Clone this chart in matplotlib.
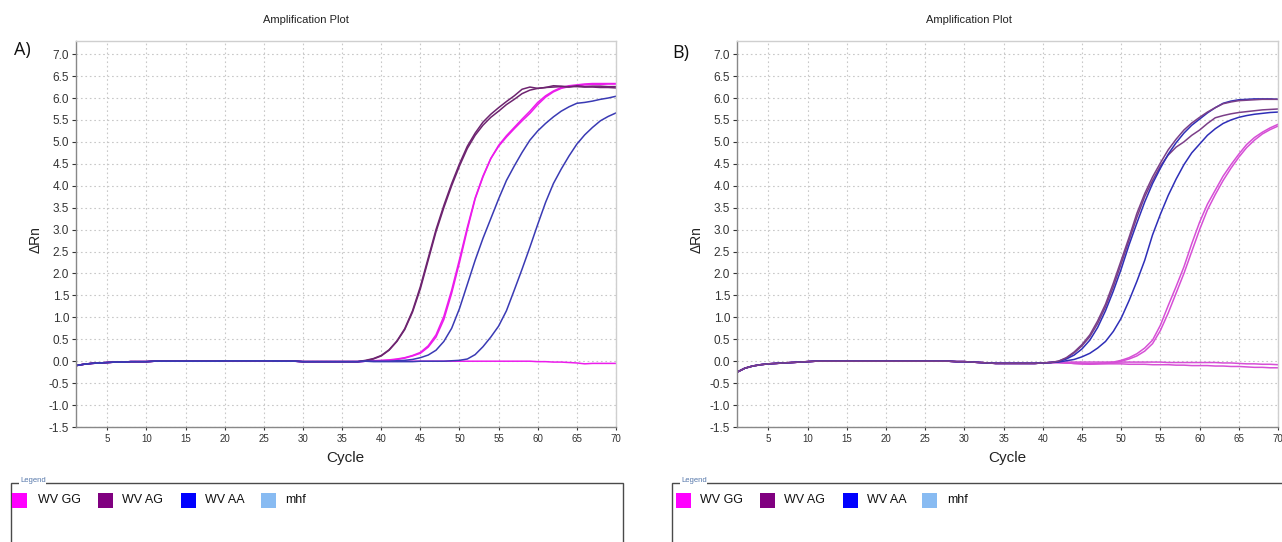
import matplotlib
matplotlib.use("Agg")
import matplotlib.pyplot as plt
from matplotlib.patches import Rectangle
from matplotlib import font_manager
import numpy as np

plt.rcParams['font.family'] = ['Liberation Sans', 'DejaVu Sans']

# ---------------- data ----------------
cycles = list(range(1, 71))
x_ticks = list(range(5, 71, 5))
y_ticks = [-1.5, -1.0, -0.5, 0.0, 0.5, 1.0, 1.5, 2.0, 2.5, 3.0, 3.5, 4.0, 4.5, 5.0, 5.5, 6.0, 6.5, 7.0]
legend_labels = ["WV GG", "WV AG", "WV AA", "mhf"]

# Panel A: cycles 1-37 shared baseline
A_BASE = [-0.10, -0.07, -0.05, -0.04, -0.03, -0.02, -0.02, -0.01, -0.01, -0.01,
          0.0, 0.0, 0.0, 0.0, 0.0, 0.0, 0.0, 0.0, 0.0,
          0.01, 0.01, 0.01, 0.01, 0.01, 0.01, 0.01,
          0.0, 0.0, 0.0,
          -0.01, -0.01, -0.01, -0.01, -0.01, -0.01, -0.01, -0.01]
# cycles 38-70
A_GG1_TAIL = [0.0, 0.0, 0.01, 0.02, 0.04, 0.07, 0.12, 0.18, 0.32, 0.55, 0.95, 1.55, 2.25, 3.00, 3.70, 4.20,
              4.62, 4.90, 5.11, 5.30, 5.48, 5.65, 5.85, 6.02, 6.14, 6.22, 6.26, 6.28, 6.30, 6.31, 6.31, 6.32, 6.32]
A_GG2_TAIL = [0.0, 0.01, 0.02, 0.03, 0.05, 0.08, 0.13, 0.20, 0.35, 0.60, 1.02, 1.62, 2.32, 3.05, 3.72, 4.22,
              4.62, 4.92, 5.14, 5.33, 5.52, 5.70, 5.90, 6.05, 6.16, 6.24, 6.28, 6.30, 6.32, 6.33, 6.33, 6.33, 6.33]
A_AG1_TAIL = [0.01, 0.05, 0.12, 0.25, 0.45, 0.72, 1.12, 1.65, 2.30, 2.95, 3.50, 4.00, 4.45, 4.85, 5.15, 5.38,
              5.56, 5.70, 5.85, 5.97, 6.10, 6.18, 6.22, 6.24, 6.25, 6.26, 6.26, 6.26, 6.25, 6.25, 6.24, 6.24, 6.23]
A_AG2_TAIL = [0.02, 0.06, 0.13, 0.26, 0.46, 0.74, 1.15, 1.70, 2.35, 3.00, 3.55, 4.05, 4.50, 4.90, 5.20, 5.45,
              5.63, 5.78, 5.92, 6.05, 6.20, 6.25, 6.22, 6.24, 6.28, 6.27, 6.25, 6.28, 6.26, 6.27, 6.27, 6.26, 6.26]
A_AA1_TAIL = [0.0, 0.0, 0.0, 0.0, 0.01, 0.02, 0.04, 0.08, 0.14, 0.25, 0.45, 0.75, 1.20, 1.75, 2.30, 2.80,
              3.25, 3.70, 4.12, 4.45, 4.76, 5.04, 5.25, 5.42, 5.57, 5.70, 5.80, 5.88, 5.90, 5.93, 5.97, 6.00, 6.04]
A_AA2_TAIL = [0.0, -0.01, -0.01, -0.01, -0.01, -0.01, -0.01, 0.0, 0.0, 0.0, 0.0, 0.01, 0.02, 0.05, 0.15, 0.33,
              0.55, 0.80, 1.15, 1.62, 2.10, 2.60, 3.12, 3.62, 4.05, 4.38, 4.68, 4.95, 5.16, 5.33, 5.48, 5.58, 5.66]
A_NTC_TAIL = [0.0, 0.0, 0.0, 0.0, 0.0, 0.0, 0.0, 0.0, 0.0, 0.0, 0.0, 0.0, 0.0, 0.0, 0.0, 0.0,
              0.0, 0.0, 0.0, 0.0, 0.0, 0.0, -0.01, -0.01, -0.02, -0.02, -0.03, -0.04, -0.06, -0.05, -0.05, -0.05, -0.05]

# Panel B: cycles 1-41 shared baseline
B_BASE = [-0.25, -0.16, -0.11, -0.08, -0.06, -0.05, -0.04, -0.03, -0.02, -0.01,
          0.0, 0.0, 0.0, 0.0, 0.0, 0.0, 0.0, 0.0, 0.0, 0.0, 0.0, 0.0, 0.0, 0.0, 0.0, 0.0, 0.0, 0.0,
          -0.01, -0.01, -0.02, -0.03, -0.04, -0.05, -0.05, -0.05, -0.05, -0.05, -0.05, -0.04, -0.03]
# cycles 42-70
B_GG1_TAIL = [-0.03, -0.04, -0.05, -0.06, -0.06, -0.05, -0.04, -0.02, 0.02, 0.08, 0.17, 0.30, 0.48, 0.82, 1.27,
              1.70, 2.15, 2.68, 3.17, 3.58, 3.90, 4.22, 4.48, 4.72, 4.94, 5.10, 5.22, 5.32, 5.40]
B_GG2_TAIL = [-0.03, -0.04, -0.05, -0.06, -0.07, -0.06, -0.05, -0.04, 0.0, 0.05, 0.12, 0.23, 0.40, 0.70, 1.10,
              1.55, 2.00, 2.50, 3.00, 3.45, 3.80, 4.12, 4.40, 4.65, 4.87, 5.04, 5.18, 5.28, 5.36]
B_AG1_TAIL = [0.0, 0.08, 0.21, 0.38, 0.60, 0.92, 1.30, 1.78, 2.30, 2.82, 3.37, 3.82, 4.20, 4.52, 4.82,
              5.06, 5.27, 5.43, 5.56, 5.68, 5.78, 5.87, 5.91, 5.94, 5.95, 5.96, 5.97, 5.97, 5.97]
B_AG2_TAIL = [0.0, 0.07, 0.19, 0.35, 0.56, 0.86, 1.24, 1.70, 2.22, 2.75, 3.28, 3.75, 4.12, 4.45, 4.70,
              4.88, 5.00, 5.15, 5.27, 5.42, 5.55, 5.60, 5.64, 5.67, 5.69, 5.71, 5.73, 5.74, 5.75]
B_AA1_TAIL = [-0.01, 0.05, 0.14, 0.28, 0.48, 0.77, 1.15, 1.60, 2.10, 2.65, 3.15, 3.63, 4.05, 4.40, 4.72,
              4.98, 5.20, 5.38, 5.52, 5.66, 5.78, 5.88, 5.93, 5.96, 5.97, 5.98, 5.98, 5.98, 5.97]
B_AA2_TAIL = [-0.02, 0.01, 0.04, 0.10, 0.18, 0.30, 0.45, 0.68, 0.98, 1.38, 1.82, 2.30, 2.88, 3.35, 3.78,
              4.15, 4.48, 4.75, 4.95, 5.15, 5.30, 5.42, 5.50, 5.56, 5.60, 5.63, 5.65, 5.67, 5.68]
B_NTC1_TAIL = [-0.02, -0.02, -0.02, -0.02, -0.02, -0.02, -0.02, -0.02, -0.02, -0.02, -0.02, -0.02, -0.02, -0.02,
               -0.03, -0.03, -0.03, -0.03, -0.03, -0.03, -0.03, -0.04, -0.04, -0.05, -0.06, -0.06, -0.07, -0.07, -0.08]
B_NTC2_TAIL = [-0.03, -0.04, -0.05, -0.05, -0.06, -0.06, -0.06, -0.06, -0.06, -0.07, -0.07, -0.07, -0.08, -0.08,
               -0.08, -0.09, -0.09, -0.10, -0.10, -0.10, -0.11, -0.11, -0.12, -0.12, -0.13, -0.14, -0.14, -0.15, -0.15]

# ---------------- styles ----------------
C_GG = "#ec1cec"
C_GG_B = "#d64fd6"
C_AG = "#6e2470"
C_AG_B = "#7b3f88"
C_AA = "#3a3ab4"
C_AA_B = "#2e2eb8"
LEG_COLORS = ["#ff00ff", "#800080", "#0000ff", "#88bbf2"]

installed = {f.name for f in font_manager.fontManager.ttflist}
NARROW = ['Liberation Sans Narrow', 'Liberation Sans'] if 'Liberation Sans Narrow' in installed \
    else ['Liberation Sans', 'DejaVu Sans']

W, H = 1282, 542
fig = plt.figure(figsize=(W / 100, H / 100), dpi=100)


def fx(px):
    return px / W


def fy(py):
    return 1 - py / H


def style_axes(ax):
    ax.set_xlim(1, 70)
    ax.set_ylim(-1.5, 7.3)
    ax.set_xticks(x_ticks)
    ax.set_yticks(y_ticks)
    ax.set_yticklabels([f"{v:.1f}" for v in y_ticks])
    ax.tick_params(axis='y', labelsize=8.5, colors='#333333', length=3, width=0.8, pad=2, labelcolor='#333333')
    ax.tick_params(axis='x', labelsize=7, colors='#333333', length=2, width=0.8, pad=3, labelcolor='#333333')
    ax.grid(True, color='#c8c8c8', linestyle=(0, (1.5, 2.5)), linewidth=0.8)
    ax.set_axisbelow(True)
    for s in ['left', 'bottom']:
        ax.spines[s].set_color('#888888')
        ax.spines[s].set_linewidth(1.0)
    for s in ['top', 'right']:
        ax.spines[s].set_color('#cfcfcf')
        ax.spines[s].set_linewidth(1.0)


def draw(ax, base, tails, colors):
    for tail, col in zip(tails, colors):
        ax.plot(cycles, base + tail, color=col, linewidth=1.1, solid_joinstyle='round')


# Panel A
axA = fig.add_axes([fx(76), fy(427), fx(616) - fx(76), fy(41) - fy(427)])
style_axes(axA)
draw(axA, A_BASE,
     [A_NTC_TAIL, A_GG1_TAIL, A_GG2_TAIL, A_AG1_TAIL, A_AG2_TAIL, A_AA1_TAIL, A_AA2_TAIL],
     [C_GG, C_GG, C_GG, C_AG, C_AG, C_AA, C_AA])

# Panel B
axB = fig.add_axes([fx(737), fy(427), fx(1278) - fx(737), fy(41) - fy(427)])
style_axes(axB)
draw(axB, B_BASE,
     [B_NTC1_TAIL, B_NTC2_TAIL, B_GG1_TAIL, B_GG2_TAIL, B_AG2_TAIL, B_AA2_TAIL, B_AA1_TAIL, B_AG1_TAIL],
     [C_GG_B, C_GG_B, C_GG_B, C_GG_B, C_AG_B, C_AA_B, C_AA_B, C_AG_B])

# texts
for cx_title, cx_cycle, x_ylab, x_letter, letter, y_letter in [
        (306, 345, 36, 22, "A)", 50), (969, 1007, 697, 681, "B)", 53)]:
    fig.text(fx(cx_title), fy(20), "Amplification Plot", ha='center', va='center', fontsize=8, color='#222222')
    fig.text(fx(cx_cycle), fy(458), "Cycle", ha='center', va='center', fontsize=11, color='#222222')
    fig.text(fx(x_ylab), fy(240), "ΔRn", ha='center', va='center', rotation=90, fontsize=10, color='#222222')
    fig.text(fx(x_letter), fy(y_letter), letter, ha='center', va='center', fontsize=13, color='#111111',
             family=['Open Sans', 'DejaVu Sans'])

# legend boxes
for left, right, patch_xs, text_xs in [
        (11, 623, [12, 98, 181, 261], [38, 122, 205, 285]),
        (672, 1300, [676, 760, 843, 922], [700, 784, 867, 947])]:
    fig.add_artist(Rectangle((fx(left), fy(560)), fx(right) - fx(left), fy(483) - fy(560),
                             transform=fig.transFigure, fill=False, edgecolor='#4a4a4a', linewidth=1.0))
    fig.text(fx(left + 9), fy(481), "Legend", ha='left', va='center', fontsize=5.5, color='#5577aa',
             bbox=dict(facecolor='white', edgecolor='none', pad=0.5))
    for px, tx, col, lab in zip(patch_xs, text_xs, LEG_COLORS, legend_labels):
        fig.add_artist(Rectangle((fx(px), fy(508)), fx(15), 15 / H, transform=fig.transFigure,
                                 facecolor=col, edgecolor='none'))
        fig.text(fx(tx), fy(500), lab, ha='left', va='center', fontsize=9, color='#111111', family=NARROW)

fig.savefig("out.png", dpi=100)
